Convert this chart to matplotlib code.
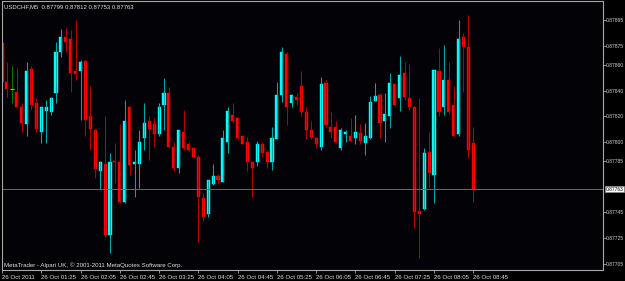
"""USDCHF M5 candlestick chart in MetaTrader style."""
import numpy as np
import matplotlib
matplotlib.use("Agg")
import matplotlib.pyplot as plt

plt.rcParams["font.family"] = ["Liberation Sans", "DejaVu Sans"]

symbol = "USDCHF,M5"
watermark = "MetaTrader - Alpari UK, \u00a9 2001-2011 MetaQuotes Software Corp."

# 5-minute bars from 00:45 to 08:45
opens = [0.87877, 0.87847, 0.87841, 0.87839, 0.87827, 0.87814, 0.87857, 0.87830, 0.87808, 0.87824,
         0.87823, 0.87838, 0.87870, 0.87882, 0.87880, 0.87855, 0.87855, 0.87863, 0.87820, 0.87809,
         0.87777, 0.87783, 0.87727, 0.87785, 0.87784, 0.87753, 0.87827, 0.87783, 0.87783, 0.87803,
         0.87816, 0.87814, 0.87806, 0.87829, 0.87838, 0.87796, 0.87780, 0.87808, 0.87798, 0.87795,
         0.87788, 0.87756, 0.87744, 0.87767, 0.87773, 0.87769, 0.87800, 0.87821, 0.87819, 0.87805,
         0.87800, 0.87784, 0.87784, 0.87798, 0.87792, 0.87784, 0.87802, 0.87837, 0.87869, 0.87830,
         0.87835, 0.87844, 0.87823, 0.87809, 0.87803, 0.87796, 0.87846, 0.87812, 0.87812, 0.87795,
         0.87806, 0.87805, 0.87803, 0.87807, 0.87799, 0.87803, 0.87832, 0.87837, 0.87816, 0.87820,
         0.87845, 0.87834, 0.87854, 0.87834, 0.87827, 0.87746, 0.87748, 0.87792, 0.87774, 0.87855,
         0.87827, 0.87848, 0.87829, 0.87806, 0.87882, 0.87874, 0.87799]
highs = [0.87880, 0.87862, 0.87859, 0.87858, 0.87830, 0.87862, 0.87859, 0.87834, 0.87827, 0.87833,
         0.87835, 0.87878, 0.87888, 0.87889, 0.87887, 0.87895, 0.87864, 0.87864, 0.87844, 0.87810,
         0.87785, 0.87820, 0.87791, 0.87799, 0.87814, 0.87833, 0.87828, 0.87794, 0.87809, 0.87830,
         0.87820, 0.87819, 0.87830, 0.87850, 0.87843, 0.87800, 0.87809, 0.87825, 0.87800, 0.87796,
         0.87790, 0.87760, 0.87770, 0.87783, 0.87775, 0.87809, 0.87827, 0.87830, 0.87819, 0.87805,
         0.87804, 0.87784, 0.87801, 0.87800, 0.87794, 0.87812, 0.87847, 0.87874, 0.87870, 0.87837,
         0.87838, 0.87855, 0.87827, 0.87816, 0.87804, 0.87851, 0.87848, 0.87823, 0.87816, 0.87811,
         0.87809, 0.87819, 0.87821, 0.87814, 0.87815, 0.87836, 0.87846, 0.87838, 0.87838, 0.87854,
         0.87846, 0.87867, 0.87862, 0.87861, 0.87828, 0.87834, 0.87795, 0.87808, 0.87856, 0.87873,
         0.87876, 0.87862, 0.87844, 0.87895, 0.87885, 0.87899, 0.87812]
lows = [0.87845, 0.87835, 0.87830, 0.87827, 0.87808, 0.87805, 0.87825, 0.87808, 0.87799, 0.87799,
        0.87821, 0.87830, 0.87866, 0.87870, 0.87839, 0.87848, 0.87817, 0.87805, 0.87794, 0.87772,
        0.87763, 0.87726, 0.87713, 0.87768, 0.87752, 0.87752, 0.87774, 0.87757, 0.87764, 0.87794,
        0.87786, 0.87796, 0.87805, 0.87809, 0.87795, 0.87777, 0.87776, 0.87794, 0.87792, 0.87788,
        0.87722, 0.87738, 0.87741, 0.87766, 0.87767, 0.87769, 0.87791, 0.87815, 0.87802, 0.87798,
        0.87777, 0.87757, 0.87781, 0.87788, 0.87780, 0.87778, 0.87802, 0.87831, 0.87813, 0.87827,
        0.87829, 0.87820, 0.87802, 0.87802, 0.87795, 0.87794, 0.87812, 0.87803, 0.87799, 0.87794,
        0.87800, 0.87800, 0.87798, 0.87798, 0.87790, 0.87802, 0.87832, 0.87803, 0.87800, 0.87811,
        0.87828, 0.87824, 0.87833, 0.87825, 0.87733, 0.87709, 0.87747, 0.87764, 0.87752, 0.87820,
        0.87821, 0.87822, 0.87805, 0.87805, 0.87839, 0.87788, 0.87753]
closes = [0.87847, 0.87841, 0.87841, 0.87827, 0.87815, 0.87855, 0.87829, 0.87810, 0.87827, 0.87827,
          0.87834, 0.87870, 0.87882, 0.87878, 0.87854, 0.87853, 0.87862, 0.87817, 0.87810, 0.87779,
          0.87784, 0.87727, 0.87784, 0.87784, 0.87753, 0.87816, 0.87782, 0.87784, 0.87800, 0.87815,
          0.87810, 0.87806, 0.87827, 0.87838, 0.87796, 0.87780, 0.87809, 0.87795, 0.87794, 0.87788,
          0.87757, 0.87741, 0.87770, 0.87773, 0.87770, 0.87803, 0.87824, 0.87816, 0.87803, 0.87798,
          0.87784, 0.87780, 0.87798, 0.87791, 0.87784, 0.87803, 0.87837, 0.87870, 0.87827, 0.87837,
          0.87833, 0.87823, 0.87809, 0.87804, 0.87798, 0.87845, 0.87813, 0.87808, 0.87800, 0.87809,
          0.87808, 0.87801, 0.87808, 0.87801, 0.87805, 0.87831, 0.87836, 0.87815, 0.87822, 0.87846,
          0.87829, 0.87852, 0.87835, 0.87827, 0.87745, 0.87744, 0.87791, 0.87776, 0.87856, 0.87823,
          0.87848, 0.87823, 0.87805, 0.87880, 0.87874, 0.87794, 0.87763]

time_labels = ["26 Oct 2011", "26 Oct 01:25", "26 Oct 02:05", "26 Oct 02:45", "26 Oct 03:25",
               "26 Oct 04:05", "26 Oct 04:45", "26 Oct 05:25", "26 Oct 06:05", "26 Oct 06:45",
               "26 Oct 07:25", "26 Oct 08:05", "26 Oct 08:45"]
label_bars = [0, 8, 16, 24, 32, 40, 48, 56, 64, 72, 80, 88, 96]
price_ticks = [0.87895, 0.87875, 0.87860, 0.87840, 0.87820, 0.87800,
               0.87785, 0.87745, 0.87725, 0.87705]

o = np.array(opens)
h = np.array(highs)
l = np.array(lows)
c = np.array(closes)
x = np.arange(len(o))
up = c > o
down = c < o
doji = c == o

W, H = 625, 281
fig = plt.figure(figsize=(W / 100, H / 100), dpi=100, facecolor="black")
ax = fig.add_axes([2 / W, 11 / H, 601 / W, 269 / H], facecolor="#030206")

# wicks
ax.vlines(x[up], l[up], h[up], color="#00a8a8", lw=0.75)
ax.vlines(x[down], l[down], h[down], color="#b00000", lw=0.75)
ax.vlines(x[doji], l[doji], h[doji], color="#007a00", lw=0.75)

# bodies
ax.bar(x[up], c[up] - o[up], bottom=o[up], width=0.64,
       color="#00ffff", edgecolor="#00ffff", lw=0.3)
ax.bar(x[down], o[down] - c[down], bottom=c[down], width=0.64,
       color="#ff0000", edgecolor="#ff0000", lw=0.3)
ax.hlines(o[doji], x[doji] - 0.35, x[doji] + 0.35, color="#40ff40", lw=0.8)

# current price line
ax.axhline(c[-1], color="#6a6a6a", lw=0.7)

ax.set_xlim(0.02, 122.42)
ax.set_ylim(0.87700, 0.87910)

for sp in ax.spines.values():
    sp.set_color("#a8a8a8")
    sp.set_linewidth(0.8)

ax.yaxis.tick_right()
ax.set_yticks(price_ticks)
ax.set_yticklabels([f"{p:.5f}" for p in price_ticks])
ax.tick_params(axis="y", colors="#a8a8a8", labelcolor="#d0d0d0", labelsize=3.6,
               length=1.8, width=0.6, pad=0.5)

ax.set_xticks(label_bars)
ax.set_xticklabels(time_labels, ha="left")
ax.tick_params(axis="x", colors="#a8a8a8", labelcolor="#e0e0e0", labelsize=4.4,
               length=2.5, width=0.6, pad=0.8)

ax.annotate(f"{c[-1]:.5f}", xy=(1, c[-1]), xycoords=("axes fraction", "data"),
            xytext=(1.8, 0), textcoords="offset points", ha="left", va="center",
            fontsize=3.5, color="black",
            bbox=dict(boxstyle="square,pad=0.1", fc="white", ec="#909090", lw=0.5))

fig.text(4 / W, 1 - 6.5 / H,
         f"{symbol}  {o[-1]:.5f} {h[-1]:.5f} {l[-1]:.5f} {c[-1]:.5f}",
         fontsize=4.3, color="#e0e0e0", va="center", ha="left")
fig.text(4 / W, 1 - 265 / H, watermark, fontsize=4.4, color="#e0e0e0",
         va="center", ha="left")

fig.savefig("out.png", dpi=100, facecolor="black")
